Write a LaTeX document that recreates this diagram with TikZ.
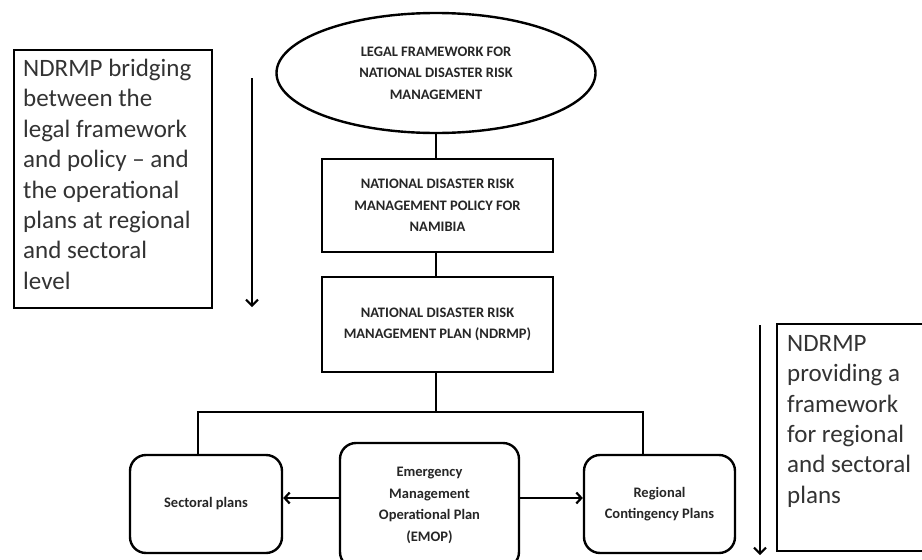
\documentclass[tikz,border=0pt]{standalone}
\usepackage{fontspec}
\setmainfont{Carlito}
\usetikzlibrary{shapes.geometric,arrows.meta}
\begin{document}
\begin{tikzpicture}[x=1pt,y=-1pt,
 box/.style={draw=black, line width=2.4pt, align=center, font=\bfseries\fontsize{14.5}{21.5}\selectfont, text=black!85, inner sep=0pt},
 rbox/.style={box, rounded corners=16pt},
 link/.style={line width=2.4pt},
 harrow/.style={line width=2.2pt, -{Straight Barb[length=5pt,width=11pt,line width=2.2pt]}},
 varrow/.style={line width=2.1pt, -{Straight Barb[length=6pt,width=12pt,line width=2.1pt]}},
 sidebox/.style={draw, line width=2.3pt, inner sep=0pt},
 sidetext/.style={align=left, anchor=north west, inner sep=0pt, font=\fontsize{25}{30.4}\selectfont, text=black!80}]
\useasboundingbox (0,0) rectangle (922,560);
\fill[white] (0,0) rectangle (922,560);

\node[box, ellipse, minimum width=319pt, minimum height=120pt] (legal) at (436,73) {LEGAL FRAMEWORK FOR\\NATIONAL DISASTER RISK\\MANAGEMENT};
\node[box, minimum width=231pt, minimum height=93pt] (policy) at (437.5,205.5) {NATIONAL DISASTER RISK\\MANAGEMENT POLICY FOR\\NAMIBIA};
\node[box, minimum width=231pt, minimum height=95pt] (ndrmp) at (437.5,324.5) {NATIONAL DISASTER RISK\\MANAGEMENT PLAN (NDRMP)};
\node[rbox, minimum width=152pt, minimum height=98pt] (sect) at (206,504) {Sectoral plans};
\node[rbox, minimum width=179pt, minimum height=125pt] (emop) at (429.5,505.5) {Emergency\\Management\\Operational Plan\\(EMOP)};
\node[rbox, minimum width=151pt, minimum height=98pt] (reg) at (659.5,504) {Regional\\Contingency Plans};

\coordinate (hl) at (198,412);
\coordinate (hr) at (643,412);
\coordinate (ay) at (0,498);
\draw[link] (legal.south) -- (legal.south |- policy.north);
\draw[link] (policy.south -| legal.south) -- (ndrmp.north -| legal.south);
\draw[link] (ndrmp.south -| legal.south) -- (hl -| legal.south);
\draw[link] (sect.north -| hl) -- (hl) -- (hr) -- (reg.north -| hr);
\draw[harrow] (emop.west |- ay) -- (sect.east |- ay);
\draw[harrow] (emop.east |- ay) -- (reg.west |- ay);

\node[sidebox, anchor=north west, minimum width=198pt, minimum height=258pt] (lbox) at (13,49) {};
\node[sidetext] (ltxt) at (23,59) {NDRMP bridging\\between the\\legal framework\\and policy -- and\\the operational\\plans at regional\\and sectoral\\level};
\coordinate (la1) at (252,78);
\coordinate (la2) at (252,307);
\draw[varrow] (la1) -- (la2);

\node[sidebox, anchor=north west, minimum width=160pt, minimum height=227pt] (rbox) at (776,323) {};
\node[sidetext] (rtxt) at (787,335) {NDRMP\\providing a\\framework\\for regional\\and sectoral\\plans};
\coordinate (ra1) at (760,325);
\coordinate (ra2) at (760,555);
\draw[varrow] (ra1) -- (ra2);
\end{tikzpicture}
\end{document}
